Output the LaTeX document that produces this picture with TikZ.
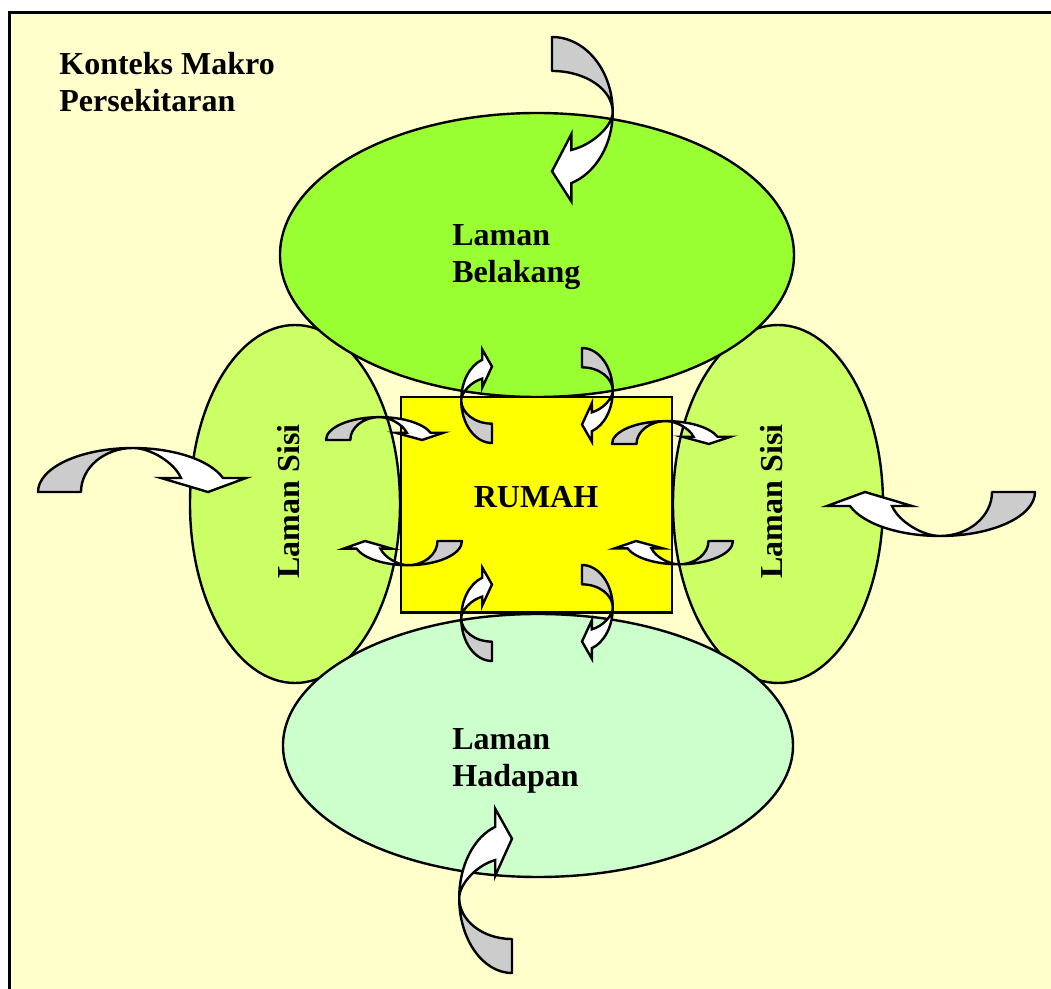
\documentclass[tikz,border=0pt]{standalone}
\usepackage{fontspec}
\setmainfont{Liberation Serif}
\usepackage{tikz}

\definecolor{paper}{HTML}{FFFFCC}
\definecolor{belakang}{HTML}{99FF33}
\definecolor{sisi}{HTML}{CCFF66}
\definecolor{hadapan}{HTML}{CCFFCC}
\definecolor{rumah}{HTML}{FFFF00}
\definecolor{punggung}{HTML}{CCCCCC}

\tikzset{
  teks/.style={font=\bfseries\fontsize{16}{18.5}\selectfont, align=left, inner sep=0pt},
  zon/.style={draw, line width=1.2pt},
  back/.style={draw, fill=punggung, line width=1.2pt, line join=round},
  front/.style={draw, fill=white, line width=1.2pt, line join=miter},
}

\begin{document}
\begin{tikzpicture}[x=0.5pt, y=0.5pt]

\useasboundingbox (0,0) rectangle (1051,-989);
\draw[line width=1.3pt, fill=paper] (9.5,-12.5) rectangle (1070,-1010);

\draw[zon, fill=sisi] (295,-504) ellipse [x radius=105, y radius=179];
\draw[zon, fill=sisi] (778,-504) ellipse [x radius=105, y radius=179];
\draw[zon, fill=belakang] (537,-255) ellipse [x radius=257, y radius=142];
\draw[zon, fill=hadapan] (538,-745.5) ellipse [x radius=255, y radius=131.5];
\draw[zon, fill=rumah] (401,-397) rectangle (672,-612.5);

\node[teks, anchor=base west] (makro) at (59,-112) {Konteks Makro\\Persekitaran};
\node[teks, anchor=base west] (belakang) at (452,-283) {Laman\\Belakang};
\node[teks, anchor=base west] (hadapan) at (452,-787) {Laman\\Hadapan};
\node[teks, anchor=base] (rumah) at (536,-508) {RUMAH};
\node[teks, anchor=base, rotate=90] (sisikiri) at (299,-501.5) {Laman Sisi};
\node[teks, anchor=base, rotate=90] (sisikanan) at (782,-501.5) {Laman Sisi};

\foreach \px/\py/\rot/\sx/\sy in {
  38/-492/0/1/1, 1035/-492/180/1/1, 552/-37/-90/.79/1.38, 512/-973/90/.79/1.2,
  326/-440/0/.565/.52, 612/-444/0/.57/.52, 462/-541/180/.57/.55, 733/-541/180/.57/.53,
  492/-443/90/.45/.7, 582/-348/-90/.45/.7, 492/-661/90/.45/.7, 582/-565/-90/.45/.7
} {
  \begin{scope}[shift={(\px,\py)}, rotate=\rot, xscale=\sx, yscale=\sy]
    \draw[back] (0,0) .. controls (0,24.3) and (42.5,44) .. (95,44)
      .. controls (66.3,44) and (43,24.3) .. (43,0) -- cycle;
    \draw[front] (95,44) .. controls (135.7,44) and (171.9,32) .. (185,14)
      -- (208,14) -- (170,0) -- (123,14) -- (143,14)
      .. controls (136,30) and (112,44) .. (95,44) -- cycle;
  \end{scope}
}

\end{tikzpicture}
\end{document}
